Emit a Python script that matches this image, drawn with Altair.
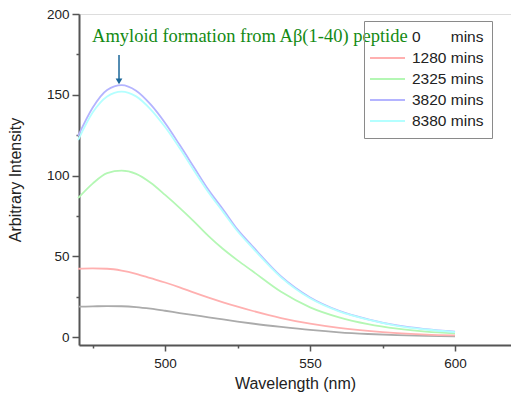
import altair as alt
import pandas as pd

wavelength = [470, 475, 480, 485, 490, 495, 500, 505, 510, 515, 520, 525, 530, 540, 550, 560, 570, 580, 590, 600]

NB = "\u00a0"
series_labels = ["0" + NB * 7 + "mins", "1280 mins", "2325 mins", "3820 mins", "8380 mins"]
series_colors = ["#ababab", "#ffb0b0", "#b4f7b4", "#b4b4ff", "#b4ffff"]

v_0 = [18.8, 19.0, 19.2, 19.1, 18.6, 17.6, 16.3, 14.9, 13.6, 12.2, 10.9, 9.6, 8.4, 6.3, 4.4, 2.9, 1.9, 1.2, 0.7, 0.4]
v_1280 = [42.3, 42.5, 42.3, 41.2, 39.2, 36.5, 33.8, 30.8, 27.5, 24.4, 21.5, 18.8, 16.3, 11.8, 8.3, 5.7, 3.8, 2.4, 1.5, 1.0]
v_2325 = [86, 95, 101.5, 103, 101, 95.5, 88, 80, 71.5, 62.5, 54.5, 47.5, 41, 28.0, 18.4, 12.2, 8.0, 5.2, 3.4, 2.3]
v_3820 = [124.5, 142, 153, 156, 152.5, 144, 132.5, 119, 105, 91, 79, 66.5, 56.5, 37.5, 24.5, 16.2, 11.0, 7.2, 4.9, 3.3]
v_8380 = [122, 139, 149, 152, 149, 141, 130, 117, 103, 89.5, 77.5, 65.5, 55.5, 37.0, 24.0, 15.9, 10.8, 7.0, 4.7, 3.1]

all_values = [v_0, v_1280, v_2325, v_3820, v_8380]

x_major = [500, 550, 600]
x_minor = [475, 525, 575]
y_major = [0, 50, 100, 150, 200]
y_minor = [25, 75, 125, 175]

annot_text = ["Amyloid formation from A\u03b2(1-40) peptide"]
annot_x = [474.8]
annot_y = [182.8]
arrow_x = [484.1]
arrow_top = [174.6]
arrow_bottom = [158.0]
arrow_head = [158.3]

rows = []
for lab, vals in zip(series_labels, all_values):
    for w, v in zip(wavelength, vals):
        rows.append({"wavelength": w, "intensity": v, "series": lab})
df = pd.DataFrame(rows)

ann = pd.DataFrame({"x": annot_x, "y": annot_y, "text": annot_text})
arr = pd.DataFrame({"x": arrow_x, "y": arrow_top, "y2": arrow_bottom, "yh": arrow_head})

xscale = alt.Scale(domain=[470.3, 619.3], nice=False, zero=False)
yscale = alt.Scale(domain=[-4.9, 200], nice=False, zero=False)

axis_common = dict(
    domainColor="#555555", domainWidth=2, tickColor="#555555", tickWidth=1.5,
    labelFont="Liberation Sans", labelFontSize=13.5, labelColor="#222222",
    titleFont="Liberation Sans", titleFontSize=16, titleColor="#222222",
    titleFontWeight="normal", grid=False,
)

lines = alt.Chart(df).mark_line(interpolate="monotone", strokeWidth=1.8).encode(
    x=alt.X("wavelength:Q", scale=xscale,
            axis=alt.Axis(values=x_major, title="Wavelength (nm)", orient="bottom",
                          tickSize=6, labelPadding=5, titlePadding=6, **axis_common)),
    y=alt.Y("intensity:Q", scale=yscale,
            axis=alt.Axis(values=y_major, title="Arbitrary Intensity", orient="left",
                          tickSize=7, labelPadding=3, titlePadding=23, **axis_common)),
    color=alt.Color("series:N",
                    scale=alt.Scale(domain=series_labels, range=series_colors),
                    legend=alt.Legend(
                        title=None, orient="none", legendX=285, legendY=7,
                        strokeColor="#8a8a8a", padding=8,
                        symbolType="M-2.5,0H2.5", symbolSize=196, symbolStrokeWidth=2,
                        symbolOffset=7.5,
                        symbolOpacity={"expr": "datum.value === '" + series_labels[0] + "' ? 0 : 1"},
                        labelFont="Liberation Sans", labelFontSize=15.5, labelColor="#222222",
                        labelOffset=16.5, rowPadding=4,
                    )),
    detail="series:N",
)

minor_common = dict(labels=False, domain=False, tickSize=3, tickColor="#555555", tickWidth=1.5, grid=False, title=None)

text = alt.Chart(ann).mark_text(
    align="left", baseline="alphabetic", font="Liberation Serif", fontSize=18.5, color="#138a13"
).encode(
    x=alt.X("x:Q", scale=xscale, axis=alt.Axis(values=x_minor, orient="bottom", **minor_common)),
    y=alt.Y("y:Q", scale=yscale, axis=alt.Axis(values=y_minor, orient="left", **minor_common)),
    text="text:N",
)

arrow_line = alt.Chart(arr).mark_rule(color="#1a6699", strokeWidth=1.5).encode(
    x=alt.X("x:Q", scale=xscale, axis=None),
    y=alt.Y("y:Q", scale=yscale, axis=None),
    y2="y2:Q",
)

arrow_tip = alt.Chart(arr).mark_point(shape="triangle-down", filled=True, size=45, color="#1a6699", opacity=1).encode(
    x=alt.X("x:Q", scale=xscale, axis=None),
    y=alt.Y("yh:Q", scale=yscale, axis=None),
)

chart = alt.layer(lines, text, arrow_line, arrow_tip).resolve_axis(
    x="independent", y="independent"
).properties(
    width=432, height=331,
    autosize=alt.AutoSizeParams(type="none"),
    padding={"left": 71, "top": 6, "right": 0, "bottom": 47},
).configure_view(stroke=None).configure(background="white")

chart.save("out.html", embed_options={"renderer": "svg", "actions": False})
